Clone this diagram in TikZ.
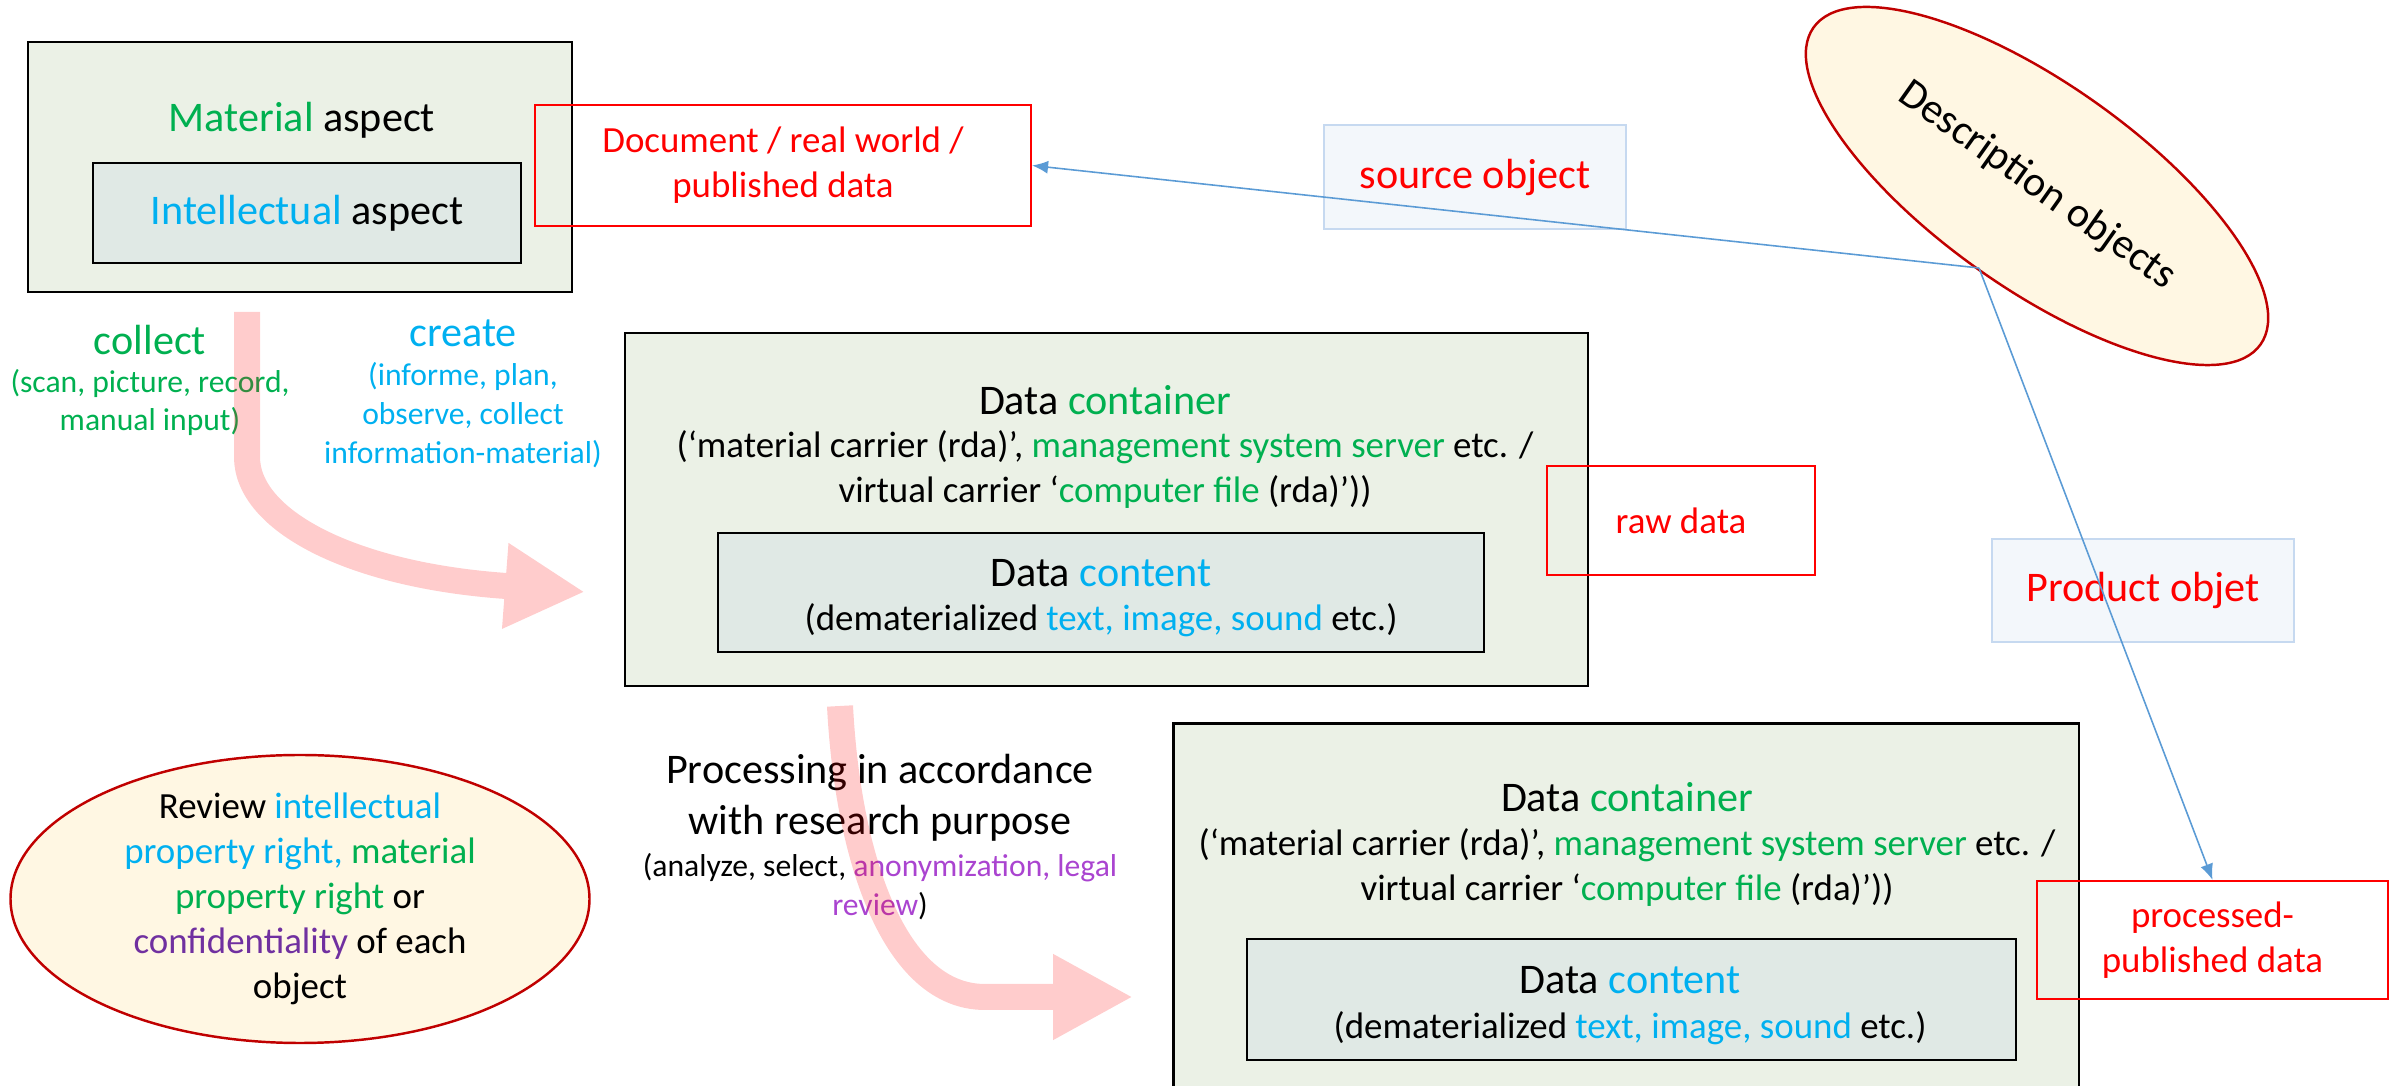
\documentclass[tikz,border=0pt]{standalone}
\usepackage{fontspec}
\setmainfont{Carlito}
\usepackage{tikz}
\usetikzlibrary{shapes.geometric}
\usetikzlibrary{arrows.meta}
\usepackage{xcolor}

\definecolor{cgreen}{HTML}{00B050}
\definecolor{ccyan}{HTML}{00B0F0}
\definecolor{cpurple}{HTML}{7030A0}
\definecolor{clilac}{HTML}{AA44D0}
\definecolor{boxgreen}{HTML}{EBF1E6}
\definecolor{boxgrey}{HTML}{E0E9E5}
\definecolor{ovalfill}{HTML}{FFF7E3}
\definecolor{ovalline}{HTML}{C00000}
\definecolor{objfill}{HTML}{F3F7FB}
\definecolor{objline}{HTML}{C6D9F0}
\definecolor{linkblue}{HTML}{5B9BD5}

\newcommand\fbig{\fontsize{12}{14.5}\selectfont}
\newcommand\fmid{\fontsize{10.5}{12.8}\selectfont}
\newcommand\fsmall{\fontsize{9}{11}\selectfont}

\newcommand\ctrtitle{Data \textcolor{cgreen}{container}}
\newcommand\ctrsub{(‘material carrier (rda)’, \textcolor{cgreen}{management system server} etc. /\\virtual carrier ‘\textcolor{cgreen}{computer file} (rda)’))}
\newcommand\cnttitle{Data \textcolor{ccyan}{content}}
\newcommand\cntsub{(dematerialized \textcolor{ccyan}{text, image, sound} etc.)}

\begin{document}
\begin{tikzpicture}[
  outerbox/.style={draw=black, line width=0.7pt, fill=boxgreen, inner sep=0pt},
  innerbox/.style={draw=black, line width=0.7pt, fill=boxgrey, inner sep=0pt, font=\fbig},
  redbox/.style={draw=red, line width=0.6pt, text=red, align=center, inner sep=0pt},
  objbox/.style={draw=objline, fill=objfill, line width=0.6pt, text=red, inner sep=0pt, font=\fbig},
  oval/.style={ellipse, draw=ovalline, fill=ovalfill, line width=0.7pt, inner sep=0pt},
  pinkarrow/.style={red, line width=2.6mm, -{Triangle[length=8mm,width=8mm]}},
  link/.style={linkblue, line width=0.45pt, -{Latex[length=1.6mm,width=1.3mm]}}
]
\useasboundingbox (0,0) rectangle (23.97,10.86);

% source side
\node[outerbox, minimum width=5.44cm, minimum height=2.50cm] (mat) at (3.00,9.19) {};
\node[innerbox, minimum width=4.28cm, minimum height=1.00cm] (intel) at (3.07,8.73) {\textcolor{ccyan}{Intellectual} aspect};
\node[font=\fbig] (matlabel) at (3.02,9.66) {\textcolor{cgreen}{Material} aspect};
\node[redbox, font=\fmid, minimum width=4.96cm, minimum height=1.21cm] (doc) at (7.83,9.205) {Document / real world /\\published data};
\node[objbox, minimum width=3.02cm, minimum height=1.04cm] (src) at (14.75,9.09) {source object};
\node[oval, minimum width=5.48cm, minimum height=2.04cm, rotate=-35.35, font=\fbig] (desc) at (20.37,9.00) {Description objects};
\coordinate (dj) at (19.79,8.18);

% first data stage
\node[outerbox, minimum width=9.63cm, minimum height=3.53cm] (ctr1) at (11.065,5.765) {};
\node[innerbox, minimum width=7.66cm, minimum height=1.19cm] (cnt1) at (11.01,4.935) {};
\node[redbox, font=\fmid, minimum width=2.68cm, minimum height=1.09cm] (raw) at (16.81,5.655) {raw data};
\node[objbox, minimum width=3.02cm, minimum height=1.03cm] (prod) at (21.43,4.955) {Product objet};

% processed stage
\node[fill=boxgreen, inner sep=0pt, minimum width=9.04cm, minimum height=3.62cm] (ctr2) at (16.26,1.81) {};
\draw[line width=0.7pt] (ctr2.south west) -- (ctr2.north west) -- (ctr2.north east) -- (ctr2.south east);
\node[innerbox, minimum width=7.69cm, minimum height=1.21cm] (cnt2) at (16.315,0.865) {};
\node[redbox, font=\fmid, minimum width=3.51cm, minimum height=1.18cm] (proc) at (22.125,1.46) {processed-\\published data};

\node[oval, minimum width=5.79cm, minimum height=2.88cm] (rev) at (3.00,1.87) {};
\node[align=center, font=\fmid] (revtext) at (rev.center) {Review \textcolor{ccyan}{intellectual}\\\textcolor{ccyan}{property right,} \textcolor{cgreen}{material}\\\textcolor{cgreen}{property right} or\\\textcolor{cpurple}{confidentiality} of each\\object};

% labels
\node[font=\fbig, text=cgreen] (collect) at (1.50,7.46) {collect};
\node[font=\fsmall, text=cgreen, align=center] (collectsub) at (1.50,6.835) {(scan, picture, record,\\manual input)};
\node[font=\fbig, text=ccyan] (create) at (4.63,7.53) {create};
\node[font=\fsmall, text=ccyan, align=center] (createsub) at (4.63,6.71) {(informe, plan,\\observe, collect\\information-material)};

\node[font=\fbig] (ctr1title) at (11.05,6.86) {\ctrtitle};
\node[font=\fmid, align=center] (ctr1sub) at (11.05,6.165) {\ctrsub};
\node[font=\fbig] (cnt1title) at (11.01,5.13) {\cnttitle};
\node[font=\fmid] (cnt1sub) at (11.01,4.66) {\cntsub};

\node[font=\fbig] (ctr2title) at (16.27,2.89) {\ctrtitle};
\node[font=\fmid, align=center] (ctr2sub) at (16.27,2.185) {\ctrsub};
\node[font=\fbig] (cnt2title) at (16.30,1.06) {\cnttitle};
\node[font=\fmid] (cnt2sub) at (16.30,0.58) {\cntsub};

\node[font=\fbig, align=center] (purpose) at (8.80,2.885) {Processing in accordance\\with research purpose};
\node[font=\fsmall, align=center] (purposesub) at (8.80,1.995) {(analyze, select, \textcolor{clilac}{anonymization, legal}\\\textcolor{clilac}{review})};

% pink flow arrows
\begin{scope}[transparency group, opacity=0.2]
\draw[pinkarrow] (2.47,7.74) -- (2.47,6.29) .. controls (2.47,5.66) and (3.50,5.11) .. (5.06,5.00) -- (5.85,4.94);
\draw[pinkarrow] (8.40,3.80) .. controls (8.48,2.26) and (8.95,0.89) .. (9.85,0.89) -- (11.33,0.89);
\end{scope}

% description links
\draw[link] (dj) -- (doc.east);
\draw[link] (dj) -- (proc.north);
\end{tikzpicture}
\end{document}
